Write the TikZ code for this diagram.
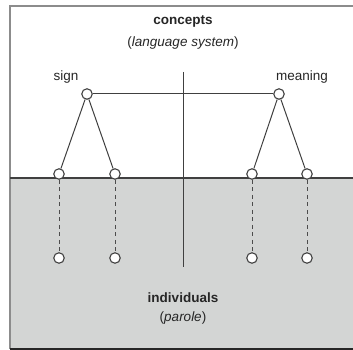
\documentclass[tikz,border=0pt]{standalone}
\usepackage{fontspec}
\setmainfont{Liberation Sans}
\begin{document}
\begin{tikzpicture}[x=1pt,y=-1pt,
  line width=1pt,
  dot/.style={circle,draw=black!75,fill=white,line width=1.1pt,inner sep=0pt,minimum size=10.5pt},
  link/.style={draw=black!75,line width=1pt},
  dashlink/.style={draw=black!70,line width=1pt,dash pattern=on 4pt off 3.5pt},
  lbl/.style={font=\fontsize{13.5}{16}\selectfont,text=black!85,inner sep=0pt,align=center},
  bold lbl/.style={lbl,font=\fontsize{13.5}{16}\selectfont\bfseries}]
\useasboundingbox (0,0) rectangle (353,350);
% upper (concepts) and lower (individuals) areas
\fill[white] (10,6) rectangle (360,178);
\fill[fill={rgb,255:red,211;green,213;blue,212}] (10,178) rectangle (360,349);
\draw[black!45,line width=1.2pt] (360,6) -- (10,6) -- (10,349);
\draw[black!85,line width=1.2pt] (10,349) -- (360,349);
\draw[black!75,line width=1.1pt] (10,178) -- (360,178);
% central divider
\coordinate (vtop) at (183,72);
\coordinate (vbot) at (183,267);
\draw[link] (vtop) -- (vbot);
% labels
\node[bold lbl] (concepts) at (183,21) {concepts};
\node[lbl] (langsys) at (183,43) {(\textit{language system})};
\node[lbl] (signlbl) at (66,77) {sign};
\node[lbl] (meaninglbl) at (302,77) {meaning};
\node[bold lbl] (indiv) at (183,298) {individuals};
\node[lbl] (parole) at (183,318) {(\textit{parole})};
% nodes
\node[dot] (sign) at (87,94) {};
\node[dot] (meaning) at (279,94) {};
\node[dot] (s1) at (59,174) {};
\node[dot] (s2) at (115,174) {};
\node[dot] (m1) at (252,174) {};
\node[dot] (m2) at (307,174) {};
\node[dot] (p1) at (59,258) {};
\node[dot] (p2) at (115,258) {};
\node[dot] (p3) at (252,258) {};
\node[dot] (p4) at (307,258) {};
% connectors
\draw[link] (sign) -- (meaning);
\draw[link] (sign) -- (s1);
\draw[link] (sign) -- (s2);
\draw[link] (meaning) -- (m1);
\draw[link] (meaning) -- (m2);
\draw[dashlink] (s1) -- (p1);
\draw[dashlink] (s2) -- (p2);
\draw[dashlink] (m1) -- (p3);
\draw[dashlink] (m2) -- (p4);
\end{tikzpicture}
\end{document}
